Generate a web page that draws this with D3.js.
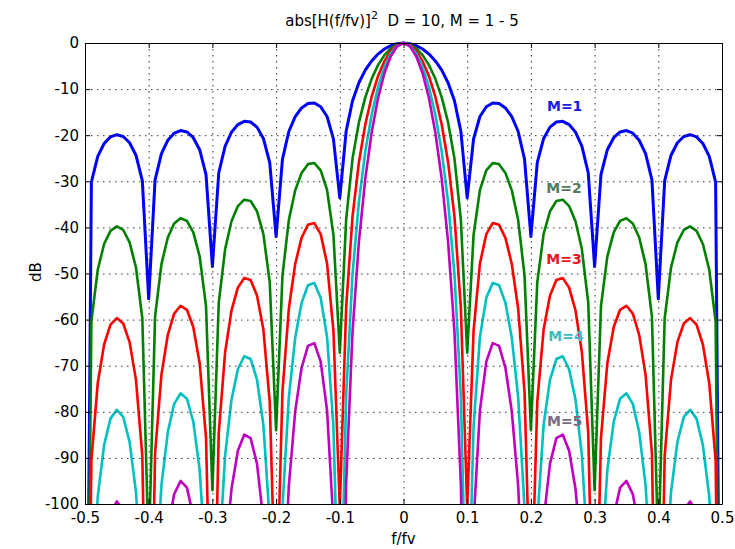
<!DOCTYPE html>
<html>
<head>
<meta charset="utf-8">
<script src="https://cdn.jsdelivr.net/npm/d3@7"></script>
<style>
  body { margin: 0; background: #fff; }
  text { font-family: "DejaVu Sans", sans-serif; }
</style>
</head>
<body>
<div id="chart"></div>
<script>

// Frequency axis f/fv, sampled every 0.01
const freq = [
    -0.50, -0.49, -0.48, -0.47, -0.46, -0.45, -0.44, -0.43, -0.42, -0.41,
    -0.40, -0.39, -0.38, -0.37, -0.36, -0.35, -0.34, -0.33, -0.32, -0.31,
    -0.30, -0.29, -0.28, -0.27, -0.26, -0.25, -0.24, -0.23, -0.22, -0.21,
    -0.20, -0.19, -0.18, -0.17, -0.16, -0.15, -0.14, -0.13, -0.12, -0.11,
    -0.10, -0.09, -0.08, -0.07, -0.06, -0.05, -0.04, -0.03, -0.02, -0.01,
    0,
    0.01, 0.02, 0.03, 0.04, 0.05, 0.06, 0.07, 0.08, 0.09, 0.10,
    0.11, 0.12, 0.13, 0.14, 0.15, 0.16, 0.17, 0.18, 0.19, 0.20,
    0.21, 0.22, 0.23, 0.24, 0.25, 0.26, 0.27, 0.28, 0.29, 0.30,
    0.31, 0.32, 0.33, 0.34, 0.35, 0.36, 0.37, 0.38, 0.39, 0.40,
    0.41, 0.42, 0.43, 0.44, 0.45, 0.46, 0.47, 0.48, 0.49, 0.50
];

// Response in dB for each M (values far below -100 fall outside the axes)
const m1 = [
    -200, -30.20, -24.60, -21.80, -20.37, -19.89, -20.28, -21.63, -24.34, -29.85,
    -55.5, -29.67, -23.98, -21.10, -19.57, -19.00, -19.29, -20.54, -23.15, -28.55,
    -48.5, -28.15, -22.35, -19.34, -17.69, -16.99, -17.14, -18.25, -20.70, -25.95,
    -42.0, -25.20, -19.20, -15.98, -14.09, -13.14, -13.02, -13.82, -15.94, -20.80,
    -33.6, -19.11, -12.53, -8.62, -5.89, -3.89, -2.40, -1.31, -0.57, -0.14,
    0,
    -0.14, -0.57, -1.31, -2.40, -3.89, -5.89, -8.62, -12.53, -19.11, -33.6,
    -20.80, -15.94, -13.82, -13.02, -13.14, -14.09, -15.98, -19.20, -25.20, -42.0,
    -25.95, -20.70, -18.25, -17.14, -16.99, -17.69, -19.34, -22.35, -28.15, -48.5,
    -28.55, -23.15, -20.54, -19.29, -19.00, -19.57, -21.10, -23.98, -29.67, -55.5,
    -29.85, -24.34, -21.63, -20.28, -19.89, -20.37, -21.80, -24.60, -30.20, -200
];

const m2 = [
    -200, -60.40, -49.20, -43.60, -40.74, -39.78, -40.56, -43.26, -48.68, -59.70,
    -111.0, -59.34, -47.96, -42.20, -39.14, -38.00, -38.58, -41.08, -46.30, -57.10,
    -97.0, -56.30, -44.70, -38.68, -35.38, -33.98, -34.28, -36.50, -41.40, -51.90,
    -84.0, -50.40, -38.40, -31.96, -28.18, -26.28, -26.04, -27.64, -31.88, -41.60,
    -67.2, -38.22, -25.06, -17.23, -11.78, -7.77, -4.79, -2.63, -1.15, -0.28,
    0,
    -0.28, -1.15, -2.63, -4.79, -7.77, -11.78, -17.23, -25.06, -38.22, -67.2,
    -41.60, -31.88, -27.64, -26.04, -26.28, -28.18, -31.96, -38.40, -50.40, -84.0,
    -51.90, -41.40, -36.50, -34.28, -33.98, -35.38, -38.68, -44.70, -56.30, -97.0,
    -57.10, -46.30, -41.08, -38.58, -38.00, -39.14, -42.20, -47.96, -59.34, -111.0,
    -59.70, -48.68, -43.26, -40.56, -39.78, -40.74, -43.60, -49.20, -60.40, -200
];

const m3 = [
    -200, -90.60, -73.80, -65.40, -61.11, -59.67, -60.84, -64.89, -73.02, -89.55,
    -166.5, -89.01, -71.94, -63.30, -58.71, -57.00, -57.87, -61.62, -69.45, -85.65,
    -145.5, -84.45, -67.05, -58.02, -53.07, -50.97, -51.42, -54.75, -62.10, -77.85,
    -126, -75.60, -57.60, -47.94, -42.27, -39.42, -39.06, -41.46, -47.82, -62.40,
    -100.8, -57.33, -37.59, -25.85, -17.67, -11.66, -7.19, -3.94, -1.72, -0.43,
    0,
    -0.43, -1.72, -3.94, -7.19, -11.66, -17.67, -25.85, -37.59, -57.33, -100.8,
    -62.40, -47.82, -41.46, -39.06, -39.42, -42.27, -47.94, -57.60, -75.60, -126,
    -77.85, -62.10, -54.75, -51.42, -50.97, -53.07, -58.02, -67.05, -84.45, -145.5,
    -85.65, -69.45, -61.62, -57.87, -57.00, -58.71, -63.30, -71.94, -89.01, -166.5,
    -89.55, -73.02, -64.89, -60.84, -59.67, -61.11, -65.40, -73.80, -90.60, -200
];

const m4 = [
    -200, -120.80, -98.40, -87.20, -81.48, -79.56, -81.12, -86.52, -97.36, -119.40,
    -200, -118.68, -95.92, -84.40, -78.28, -76.00, -77.16, -82.16, -92.60, -114.20,
    -194, -112.60, -89.40, -77.36, -70.76, -67.96, -68.56, -73.00, -82.80, -103.80,
    -168, -100.80, -76.80, -63.92, -56.36, -52.56, -52.08, -55.28, -63.76, -83.20,
    -134.4, -76.45, -50.11, -34.46, -23.56, -15.55, -9.59, -5.25, -2.30, -0.57,
    0,
    -0.57, -2.30, -5.25, -9.59, -15.55, -23.56, -34.46, -50.11, -76.45, -134.4,
    -83.20, -63.76, -55.28, -52.08, -52.56, -56.36, -63.92, -76.80, -100.80, -168,
    -103.80, -82.80, -73.00, -68.56, -67.96, -70.76, -77.36, -89.40, -112.60, -194,
    -114.20, -92.60, -82.16, -77.16, -76.00, -78.28, -84.40, -95.92, -118.68, -200,
    -119.40, -97.36, -86.52, -81.12, -79.56, -81.48, -87.20, -98.40, -120.80, -200
];

const m5 = [
    -200, -151.00, -123.00, -109.00, -101.85, -99.45, -101.40, -108.15, -121.70, -149.25,
    -200, -148.35, -119.90, -105.50, -97.85, -95.00, -96.45, -102.70, -115.75, -142.75,
    -200, -140.75, -111.75, -96.70, -88.45, -84.95, -85.70, -91.25, -103.50, -129.75,
    -200, -126.00, -96.00, -79.90, -70.45, -65.70, -65.10, -69.10, -79.70, -104.00,
    -168, -95.56, -62.63, -43.08, -29.45, -19.43, -11.99, -6.57, -2.87, -0.71,
    0,
    -0.71, -2.87, -6.57, -11.99, -19.43, -29.45, -43.08, -62.63, -95.56, -168,
    -104.00, -79.70, -69.10, -65.10, -65.70, -70.45, -79.90, -96.00, -126.00, -200,
    -129.75, -103.50, -91.25, -85.70, -84.95, -88.45, -96.70, -111.75, -140.75, -200,
    -142.75, -115.75, -102.70, -96.45, -95.00, -97.85, -105.50, -119.90, -148.35, -200,
    -149.25, -121.70, -108.15, -101.40, -99.45, -101.85, -109.00, -123.00, -151.00, -200
];

const seriesNames = ["M=1", "M=2", "M=3", "M=4", "M=5"];
const seriesValues = [m1, m2, m3, m4, m5];

// Tick values
const xTicks = [-0.5, -0.4, -0.3, -0.2, -0.1, 0, 0.1, 0.2, 0.3, 0.4, 0.5];
const yTicks = [0, -10, -20, -30, -40, -50, -60, -70, -80, -90, -100];

// Styles
const lineColors = ["#0000ff", "#008000", "#ff0000", "#00bfbf", "#bf00bf"];
const lineWidths = [3, 2.6, 2.6, 2.6, 2.6];
const labelColors = ["#1a1ae0", "#4f7a5c", "#e8141e", "#3cbcbc", "#7a6a82"];
// label anchor points in data units (centre of text)
const labelPos = [[0.253, -13.7], [0.252, -31.5], [0.252, -46.9], [0.255, -63.6], [0.253, -82.0]];

// Dimensions and margins
const margin = {top: 43, right: 13, bottom: 45, left: 85},
    width = 735 - margin.left - margin.right,
    height = 549 - margin.top - margin.bottom;

const svgRoot = d3.select("#chart")
    .append("svg")
    .attr("width", 735)
    .attr("height", 549)
    .style("background", "#fff");

const svg = svgRoot.append("g")
    .attr("transform", `translate(${margin.left},${margin.top})`);

// Scales
const x = d3.scaleLinear().domain([-0.5, 0.5]).range([0, width]);
const y = d3.scaleLinear().domain([-100, 0]).range([height, 0]);

// Clip for the plot area
svg.append("clipPath")
    .attr("id", "plotclip")
    .append("rect")
    .attr("x", 0).attr("y", -2)
    .attr("width", width).attr("height", height + 2);

// Curves
const line = d3.line()
    .x((d, i) => x(freq[i]))
    .y(d => y(d));

const plot = svg.append("g").attr("clip-path", "url(#plotclip)");
seriesValues.forEach((vals, k) => {
    plot.append("path")
        .datum(vals)
        .attr("fill", "none")
        .attr("stroke", lineColors[k])
        .attr("stroke-width", lineWidths[k])
        .attr("stroke-linejoin", "round")
        .attr("d", line);
});

// Dotted grid
const grid = svg.append("g")
    .attr("stroke", "#333")
    .attr("stroke-width", 1)
    .attr("stroke-dasharray", "1.5,4.5");
grid.selectAll(".gx")
    .data(xTicks.slice(1, -1))
    .join("line")
    .attr("x1", d => x(d) + 0.5).attr("x2", d => x(d) + 0.5)
    .attr("y1", 0).attr("y2", height);
grid.selectAll(".gy")
    .data(yTicks.slice(1, -1))
    .join("line")
    .attr("x1", 0).attr("x2", width)
    .attr("y1", d => y(d) + 0.5).attr("y2", d => y(d) + 0.5);

// Axes (ticks pointing inward, box all round)
const fmtX = d => d === 0 ? "0" : d3.format(".1f")(d).replace("\u2212", "-");
const fmtY = d => String(d);

svg.append("g")
    .attr("transform", `translate(0,${height})`)
    .call(d3.axisBottom(x).tickValues(xTicks).tickFormat(fmtX)
        .tickSizeInner(-5).tickSizeOuter(0).tickPadding(8));
svg.append("g")
    .call(d3.axisLeft(y).tickValues(yTicks).tickFormat(fmtY)
        .tickSizeInner(-5).tickSizeOuter(0).tickPadding(6));
svg.append("g")
    .call(d3.axisTop(x).tickValues(xTicks).tickFormat("")
        .tickSizeInner(-5).tickSizeOuter(0));
svg.append("g")
    .attr("transform", `translate(${width},0)`)
    .call(d3.axisRight(y).tickValues(yTicks).tickFormat("")
        .tickSizeInner(-5).tickSizeOuter(0));

svg.selectAll(".tick text")
    .attr("font-family", "DejaVu Sans, sans-serif")
    .attr("font-size", 15)
    .attr("fill", "#000");
svg.selectAll(".domain, .tick line").attr("stroke", "#000");

// Series labels
svg.selectAll(".mlabel")
    .data(seriesNames)
    .join("text")
    .attr("x", (d, i) => x(labelPos[i][0]))
    .attr("y", (d, i) => y(labelPos[i][1]))
    .attr("dy", "0.36em")
    .attr("text-anchor", "middle")
    .attr("font-size", 14)
    .attr("font-weight", "bold")
    .attr("fill", (d, i) => labelColors[i])
    .text(d => d);

// Title with superscript
const title = svgRoot.append("text")
    .attr("x", 402)
    .attr("y", 26)
    .attr("text-anchor", "middle")
    .attr("font-size", 15)
    .attr("fill", "#000")
    .style("white-space", "pre");
title.append("tspan").text("abs[H(f/fv)]");
title.append("tspan").attr("dy", -7).attr("font-size", 11).text("2");
title.append("tspan").attr("dy", 7).text("  D = 10, M = 1 - 5");

// Axis labels
svgRoot.append("text")
    .attr("x", margin.left + x(0))
    .attr("y", 544)
    .attr("text-anchor", "middle")
    .attr("font-size", 15)
    .attr("fill", "#000")
    .text("f/fv");

svgRoot.append("text")
    .attr("transform", "translate(41,272) rotate(-90)")
    .attr("text-anchor", "middle")
    .attr("font-size", 15)
    .attr("fill", "#000")
    .text("dB");

</script>
</body>
</html>
